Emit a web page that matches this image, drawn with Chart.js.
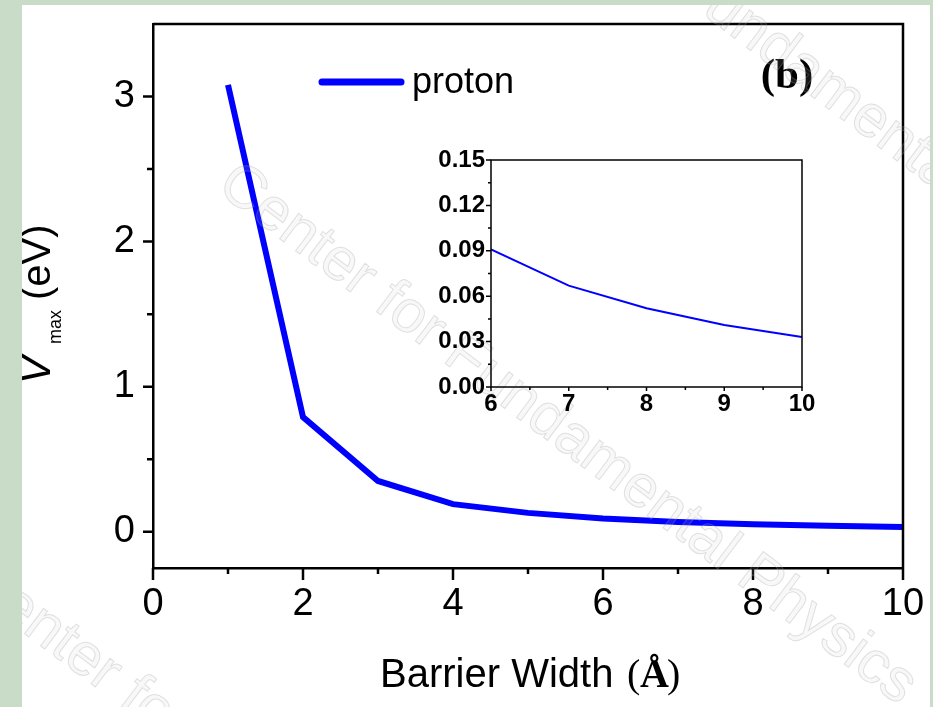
<!DOCTYPE html>
<html>
<head>
    <script src="https://cdn.jsdelivr.net/npm/chart.js@4.4.0/dist/chart.umd.min.js"></script>
    <style>
      body { margin: 0; background: #ffffff; }
      #wrap { position: relative; width: 933px; height: 707px; overflow: hidden; }
      #myChart { position: absolute; left: 0; top: 0; }
      #insetChart { position: absolute; left: 400px; top: 140px; }
      .frame { position: absolute; background: #c8dcc8; }
    </style>
</head>
<body>

<div id="wrap">
  <canvas id="myChart" width="933" height="707"></canvas>
  <canvas id="insetChart" width="420" height="290"></canvas>
  <!-- green page frame -->
  <div class="frame" style="left:0;top:0;width:22px;height:707px"></div>
  <div class="frame" style="left:0;top:0;width:933px;height:5px"></div>
  <div class="frame" style="left:930px;top:0;width:3px;height:707px"></div>
</div>

<script>
// Barrier width (Angstrom) and maximum potential (eV)
const barrierWidth = [1, 2, 3, 4, 5, 6, 7, 8, 9, 10];
const vMax = [3.08, 0.79, 0.35, 0.19, 0.13, 0.091, 0.067, 0.052, 0.041, 0.033];

// tick labels
const mainXTicks = [0, 2, 4, 6, 8, 10];
const mainYTicks = [0, 1, 2, 3];
const insetXTicks = [6, 7, 8, 9, 10];
const insetYTicks = [0, 0.03, 0.06, 0.09, 0.12, 0.15];

const seriesName = 'proton';
const panelLabel = '(b)';
const blue = '#0000ff';

// Function to draw tick marks through a scale
function drawTicks(ctx, scale, values, len, width) {
  ctx.save();
  ctx.strokeStyle = '#000';
  ctx.lineWidth = width;
  ctx.beginPath();
  values.forEach(v => {
    const p = scale.getPixelForValue(v);
    if (scale.isHorizontal()) {
      ctx.moveTo(p, scale.top);
      ctx.lineTo(p, scale.top + len);
    } else {
      ctx.moveTo(scale.right, p);
      ctx.lineTo(scale.right - len, p);
    }
  });
  ctx.stroke();
  ctx.restore();
}

// Function to draw the watermark text
function drawWatermark(ctx, x, y) {
  ctx.save();
  ctx.translate(x, y);
  ctx.rotate(37 * Math.PI / 180);
  ctx.font = '60px Arial';
  ctx.textBaseline = 'alphabetic';
  ctx.fillStyle = 'rgba(200,200,200,0.12)';
  ctx.strokeStyle = 'rgba(160,160,160,0.3)';
  ctx.lineWidth = 1;
  ctx.fillText('Center for Fundamental Physics', 0, 0);
  ctx.strokeText('Center for Fundamental Physics', 0, 0);
  ctx.restore();
}

// keep the chart area exactly where the axes sit
function noPad(s) {
  s.paddingTop = 0;
  s.paddingBottom = 0;
  s.paddingLeft = 0;
  s.paddingRight = 0;
}

const mainDecor = {
  id: 'mainDecor',
  afterDraw(chart) {
    const ctx = chart.ctx;
    const a = chart.chartArea;
    const xs = chart.scales.x;
    const ys = chart.scales.y;

    // top and right frame lines
    ctx.save();
    ctx.strokeStyle = '#000';
    ctx.lineWidth = 2.5;
    ctx.beginPath();
    ctx.moveTo(a.left, a.top);
    ctx.lineTo(a.right, a.top);
    ctx.lineTo(a.right, a.bottom);
    ctx.stroke();
    ctx.restore();

    // major and minor ticks
    drawTicks(ctx, xs, mainXTicks, 12, 2.5);
    drawTicks(ctx, xs, [1, 3, 5, 7, 9], 6, 2.5);
    drawTicks(ctx, ys, mainYTicks, 10, 2.5);
    drawTicks(ctx, ys, [0.5, 1.5, 2.5], 6, 2.5);

    // legend
    ctx.save();
    ctx.strokeStyle = blue;
    ctx.lineWidth = 7;
    ctx.lineCap = 'round';
    ctx.beginPath();
    ctx.moveTo(322, 82);
    ctx.lineTo(401, 82);
    ctx.stroke();
    ctx.fillStyle = '#000';
    ctx.font = '36px Arial';
    ctx.textBaseline = 'alphabetic';
    ctx.fillText(seriesName, 412, 93);

    // panel label
    ctx.font = 'bold 43px "Liberation Serif", "Times New Roman", serif';
    ctx.textAlign = 'center';
    ctx.fillText(panelLabel, 787, 88);

    // x axis title
    ctx.textAlign = 'left';
    ctx.font = '40px Arial';
    ctx.fillText('Barrier Width ', 380, 687);
    ctx.font = '40px "Liberation Serif", serif';
    ctx.fillText('(', 627, 687);
    ctx.font = 'bold 40px "Liberation Serif", serif';
    ctx.fillText('\u00C5', 640, 687);
    ctx.font = '40px "Liberation Serif", serif';
    ctx.fillText(')', 667, 687);

    // y axis title, rotated
    ctx.translate(50, 384);
    ctx.rotate(-Math.PI / 2);
    ctx.font = 'italic 42px Arial';
    ctx.fillText('V', 0, 0);
    ctx.font = '18px Arial';
    ctx.fillText('max', 40, 11);
    ctx.font = '40px Arial';
    ctx.fillText('(eV)', 84, 0);
    ctx.restore();

    // watermark
    drawWatermark(ctx, 215, 190);
    drawWatermark(ctx, -40, 585);
    drawWatermark(ctx, 445, -180);
  }
};

const insetDecor = {
  id: 'insetDecor',
  afterDraw(chart) {
    const ctx = chart.ctx;
    const a = chart.chartArea;
    const xs = chart.scales.x;
    const ys = chart.scales.y;
    ctx.save();
    ctx.strokeStyle = '#000';
    ctx.lineWidth = 1.5;
    ctx.strokeRect(a.left, a.top, a.right - a.left, a.bottom - a.top);
    ctx.restore();
    drawTicks(ctx, xs, insetXTicks, 4, 1.5);
    drawTicks(ctx, xs, [6.5, 7.5, 8.5, 9.5], 3, 1.5);
    drawTicks(ctx, ys, insetYTicks, 5, 1.5);
    drawTicks(ctx, ys, [0.015, 0.045, 0.075, 0.105, 0.135], 3, 1.5);
  }
};

const mainPoints = barrierWidth.map((x, i) => ({ x: x, y: vMax[i] }));
const insetPoints = mainPoints.filter(p => p.x >= 6);

const myChart = new Chart(document.getElementById('myChart').getContext('2d'), {
  type: 'line',
  data: {
    datasets: [{
      label: seriesName,
      data: mainPoints,
      borderColor: blue,
      borderWidth: 6,
      pointRadius: 0,
      tension: 0
    }]
  },
  options: {
    responsive: false,
    animation: false,
    layout: { padding: { top: 24, right: 30, left: 0, bottom: 0 } },
    plugins: { legend: { display: false }, tooltip: { enabled: false } },
    scales: {
      x: {
        type: 'linear',
        min: 0,
        max: 10,
        afterBuildTicks: s => { s.ticks = mainXTicks.map(v => ({ value: v })); },
        afterFit: s => { s.height = 139; noPad(s); },
        grid: { display: false, drawTicks: true, tickLength: 12 },
        border: { display: true, color: '#000', width: 2.5 },
        ticks: { color: '#000', font: { family: 'Arial', size: 38 }, padding: 2, maxRotation: 0 }
      },
      y: {
        type: 'linear',
        min: -0.25,
        max: 3.5,
        afterBuildTicks: s => { s.ticks = mainYTicks.map(v => ({ value: v })); },
        afterFit: s => { s.width = 153; noPad(s); },
        grid: { display: false, drawTicks: true, tickLength: 10 },
        border: { display: true, color: '#000', width: 2.5 },
        ticks: { color: '#000', font: { family: 'Arial', size: 38 }, padding: 8 }
      }
    }
  },
  plugins: [mainDecor]
});

const insetChart = new Chart(document.getElementById('insetChart').getContext('2d'), {
  type: 'line',
  data: {
    datasets: [{
      label: seriesName,
      data: insetPoints,
      borderColor: blue,
      borderWidth: 2,
      pointRadius: 0,
      tension: 0
    }]
  },
  options: {
    responsive: false,
    animation: false,
    layout: { padding: { top: 20, right: 18, left: 0, bottom: 0 } },
    plugins: { legend: { display: false }, tooltip: { enabled: false } },
    scales: {
      x: {
        type: 'linear',
        min: 6,
        max: 10,
        afterBuildTicks: s => { s.ticks = insetXTicks.map(v => ({ value: v })); },
        afterFit: s => { s.height = 43; noPad(s); },
        grid: { display: false, drawTicks: true, tickLength: 3 },
        border: { display: false },
        ticks: { color: '#000', font: { family: 'Arial', size: 24, weight: 'bold' }, padding: 0, maxRotation: 0 }
      },
      y: {
        type: 'linear',
        min: 0,
        max: 0.15,
        afterBuildTicks: s => { s.ticks = insetYTicks.map(v => ({ value: v })); },
        afterFit: s => { s.width = 91; noPad(s); },
        grid: { display: false, drawTicks: true, tickLength: 3 },
        border: { display: false },
        ticks: {
          color: '#000',
          font: { family: 'Arial', size: 24, weight: 'bold' },
          padding: 3,
          callback: v => v.toFixed(2)
        }
      }
    }
  },
  plugins: [insetDecor]
});
</script>

</body>
</html>
